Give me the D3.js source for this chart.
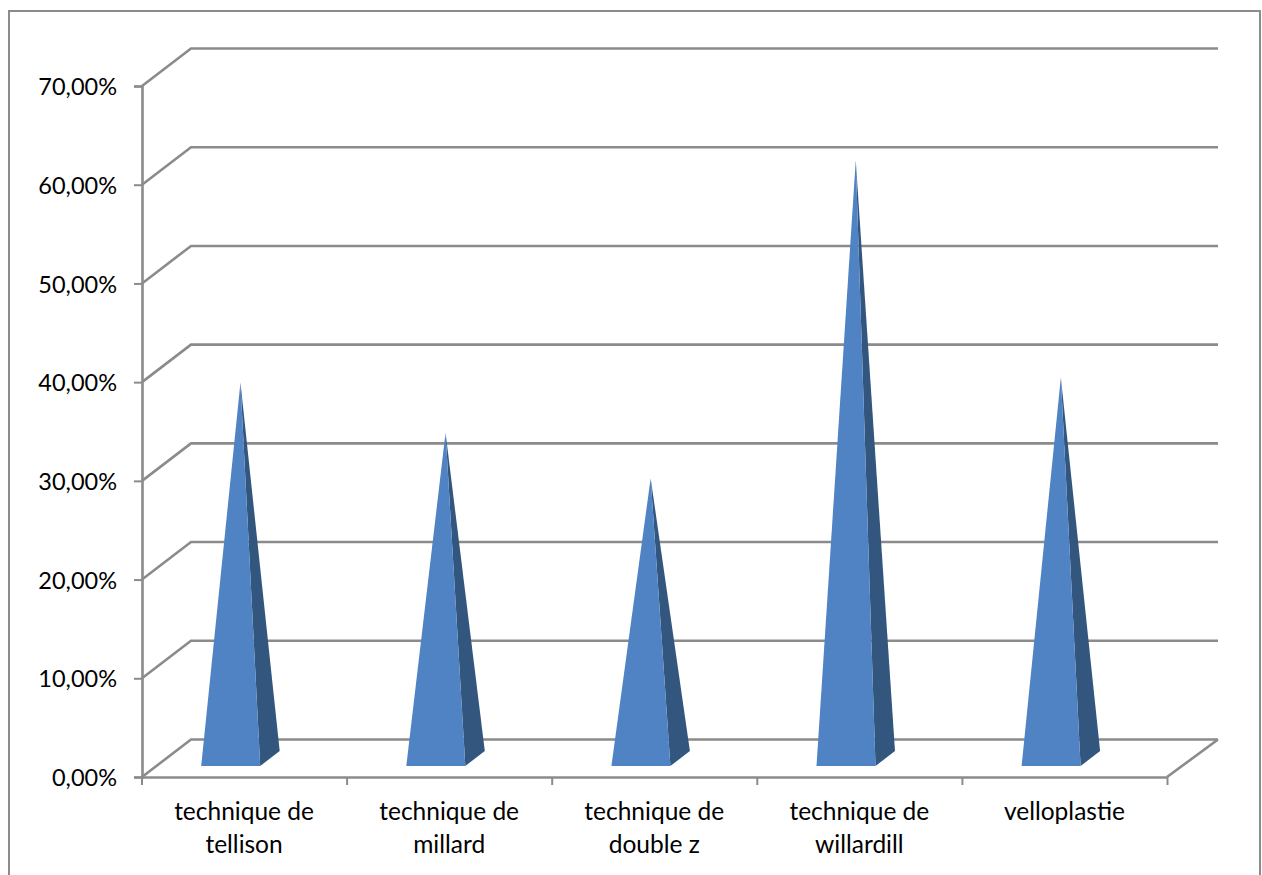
<!DOCTYPE html>
<html>
<head>
<meta charset="utf-8">
<script src="https://cdnjs.cloudflare.com/ajax/libs/d3/7.8.5/d3.min.js"></script>
<style>
  html, body { margin: 0; padding: 0; background: #fff; overflow: hidden; }
  text { font-family: Lato, "Open Sans", sans-serif; fill: #000; }
</style>
</head>
<body>
<div id="chart"></div>
<script>
let categories = ['technique de tellison', 'technique de millard', 'technique de double z', 'technique de willardill', 'velloplastie']
let labelLines = [['technique de', 'tellison'], ['technique de', 'millard'], ['technique de', 'double z'], ['technique de', 'willardill'], ['velloplastie']]
let values = [38.1, 33, 28.4, 60.6, 38.6]
let yTicks = [0, 10, 20, 30, 40, 50, 60, 70]

let width = 1262, height = 875
let grey = '#8b8b8b'
// 3d depth of the chart box, in pixels
let depthX = 49, depthY = -37.5

let svg = d3.select('#chart').append('svg').attr('width', width).attr('height', height)

svg.append('rect')
  .attr('x', 9).attr('y', 11)
  .attr('width', 1251).attr('height', 880)
  .attr('fill', '#fff').attr('stroke', grey).attr('stroke-width', 2)

let x = d3.scaleBand().domain(categories).range([142, 1167.5])
let y = d3.scaleLinear().domain([0, 70]).range([777, 86])
let fmt = d3.formatLocale({decimal: ',', thousands: ' ', grouping: [3], currency: ['', '']}).format('.2f')

// gridlines: side wall + back wall
svg.append('g').selectAll('path')
  .data(yTicks)
  .enter()
  .append('path')
  .attr('d', function(d) {
    return d3.line()([[142, y(d)], [142 + depthX, y(d) + depthY], [1218, y(d) + depthY]])
  })
  .attr('fill', 'none')
  .attr('stroke', grey)
  .attr('stroke-width', 2.6)

// right edge of the floor
svg.append('line')
  .attr('x1', 1167).attr('y1', y(0))
  .attr('x2', 1167 + depthX + 2).attr('y2', y(0) + depthY)
  .attr('stroke', grey).attr('stroke-width', 2.6)

// Y axis
let yAxis = svg.append('g')
  .attr('transform', 'translate(142,0)')
  .call(d3.axisLeft(y).tickValues(yTicks).tickSize(8).tickPadding(17).tickFormat(function(d) { return fmt(d) + '%' }))
yAxis.select('.domain').attr('stroke', grey).attr('stroke-width', 2.6)
yAxis.selectAll('.tick line').attr('stroke', grey).attr('stroke-width', 2)
yAxis.selectAll('.tick text')
  .attr('font-family', null)
  .style('font-size', '23.5px')
  .attr('dy', '0.37em')

// X axis
let xAxis = svg.append('g')
  .attr('transform', 'translate(0,' + y(0) + ')')
  .call(d3.axisBottom(x).tickSize(0).tickFormat(''))
xAxis.select('.domain').attr('stroke', grey).attr('stroke-width', 2.6)
xAxis.selectAll('.tick').remove()

let edges = categories.map(function(c) { return x(c) }).concat([x.range()[1]])
xAxis.selectAll('line.edge')
  .data(edges)
  .enter()
  .append('line')
  .attr('class', 'edge')
  .attr('x1', function(d) { return d }).attr('x2', function(d) { return d })
  .attr('y1', 0).attr('y2', 8)
  .attr('stroke', grey).attr('stroke-width', 2)

let labels = svg.append('g').selectAll('text')
  .data(categories)
  .enter()
  .append('text')
  .attr('text-anchor', 'middle')
  .style('font-size', '24.5px')
labels.selectAll('tspan')
  .data(function(c, i) { return labelLines[i].map(function(l) { return {c: c, l: l} }) })
  .enter()
  .append('tspan')
  .attr('x', function(d) { return x(d.c) + x.bandwidth() / 2 - 0.5 })
  .attr('y', function(d, i) { return 820 + i * 33 })
  .text(function(d) { return d.l })

// pyramids, base sits on the floor a bit inside the front edge
let baseLeft = 59.2, baseW = 59, baseDX = 19.5, baseFront = 766, baseBack = 751

let bars = svg.append('g').selectAll('g')
  .data(categories)
  .enter()
  .append('g')

function apex(c, i) {
  let left = x(c) + baseLeft
  return [left + (baseW + baseDX) / 2, y(values[i]) + ((baseFront + baseBack) / 2 - y(0))]
}

bars.append('path')
  .attr('d', function(c, i) {
    let left = x(c) + baseLeft
    return d3.line()([[left + baseW, baseFront], [left + baseW + baseDX, baseBack], apex(c, i)]) + 'Z'
  })
  .attr('fill', '#33567f')

bars.append('path')
  .attr('d', function(c, i) {
    let left = x(c) + baseLeft
    return d3.line()([[left, baseFront], [left + baseW, baseFront], apex(c, i)]) + 'Z'
  })
  .attr('fill', '#5083c4')
</script>
</body>
</html>
